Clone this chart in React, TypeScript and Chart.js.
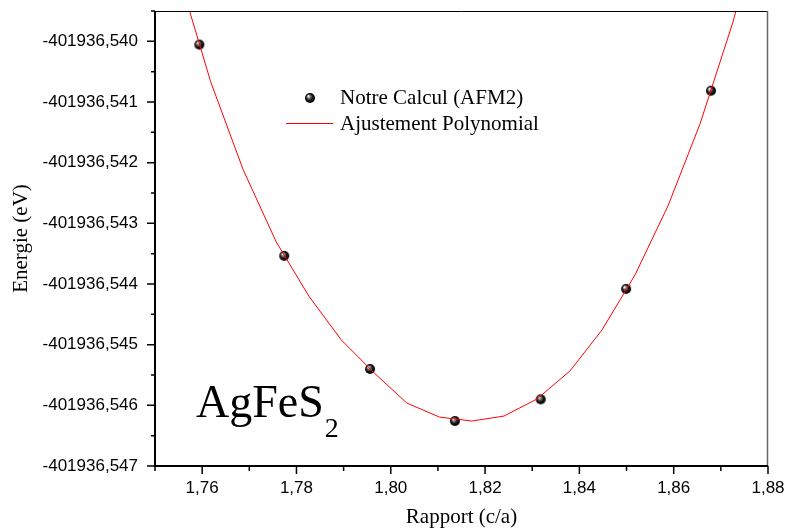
import React, { useEffect, useRef } from "react";
import { Chart, registerables } from "chart.js";
Chart.register(...registerables);

// Calculated points (c/a ratio, energy in eV)
const ratioPoints = [1.7594, 1.7774, 1.7956, 1.8136, 1.8318, 1.8499, 1.8679];
const energyPoints = [
  -401936.540054, -401936.543536, -401936.545401, -401936.546259,
  -401936.545901, -401936.544081, -401936.540814,
];

// Polynomial fit curve
const fitRatios = [
  1.7549, 1.7618, 1.7687, 1.7757, 1.7826, 1.7895, 1.7965, 1.8034, 1.8103,
  1.8172, 1.824, 1.831, 1.838, 1.8448, 1.8518, 1.8588, 1.8656, 1.8726, 1.8794,
];
const fitEnergies = [
  -401936.538866, -401936.540665, -401936.542117, -401936.543305,
  -401936.544196, -401936.544922, -401936.545467, -401936.545962,
  -401936.546193, -401936.546259, -401936.546177, -401936.545896,
  -401936.545434, -401936.544757, -401936.54385, -401936.542711,
  -401936.541358, -401936.539675, -401936.537662,
];

const xMajorTicks = [1.76, 1.78, 1.8, 1.82, 1.84, 1.86, 1.88];
const xMinorTicks = [1.75, 1.77, 1.79, 1.81, 1.83, 1.85, 1.87];
const xTickLabels = ["1,76", "1,78", "1,80", "1,82", "1,84", "1,86", "1,88"];
const yMajorTicks = [
  -401936.547, -401936.546, -401936.545, -401936.544, -401936.543,
  -401936.542, -401936.541, -401936.54,
];
const yMinorTicks = [
  -401936.5465, -401936.5455, -401936.5445, -401936.5435, -401936.5425,
  -401936.5415, -401936.5405, -401936.5395,
];
const yTickLabels = [
  "-401936,547", "-401936,546", "-401936,545", "-401936,544", "-401936,543",
  "-401936,542", "-401936,541", "-401936,540",
];

const X_MIN = 1.75;
const X_MAX = 1.88;
const Y_MIN = -401936.547;
const Y_MAX = -401936.5395;

const seriesLabels = ["Notre Calcul (AFM2)", "Ajustement Polynomial"];
const compoundName = "AgFeS";
const compoundSub = "2";

const SERIF = "'Liberation Serif', 'Times New Roman', serif";
const SANS = "'Liberation Sans', Arial, sans-serif";

function makeBall(r: number) {
  const c = document.createElement("canvas");
  const s = Math.ceil(r * 2 + 2);
  c.width = s;
  c.height = s;
  const ctx = c.getContext("2d")!;
  const cx = s / 2;
  const g = ctx.createRadialGradient(cx - r * 0.35, cx - r * 0.4, 0.3, cx, cx, r);
  g.addColorStop(0, "#ffffff");
  g.addColorStop(0.25, "#8a8a8a");
  g.addColorStop(0.6, "#1a1a1a");
  g.addColorStop(1, "#000000");
  ctx.fillStyle = g;
  ctx.beginPath();
  ctx.arc(cx, cx, r, 0, Math.PI * 2);
  ctx.fill();
  return c;
}

function zeroPadding(scale: any) {
  scale.paddingTop = 0;
  scale.paddingBottom = 0;
  scale.paddingLeft = 0;
  scale.paddingRight = 0;
}

export default function App() {
  const ref = useRef<HTMLCanvasElement | null>(null);
  useEffect(() => {
    document.body.style.margin = "0";
    const canvas = ref.current!;
    const ball = makeBall(5);

    const framePlugin = {
      id: "framePlugin",
      afterDraw(chart: any) {
        const ctx = chart.ctx;
        const { left, right, top, bottom } = chart.chartArea;
        const xs = chart.scales.x;
        const ys = chart.scales.y;
        ctx.save();
        // frame
        ctx.strokeStyle = "#000";
        ctx.lineWidth = 1;
        ctx.beginPath();
        ctx.moveTo(left, top + 0.5);
        ctx.lineTo(right, top + 0.5);
        ctx.stroke();
        ctx.strokeStyle = "#666";
        ctx.lineWidth = 1.5;
        ctx.beginPath();
        ctx.moveTo(right - 0.5, top);
        ctx.lineTo(right - 0.5, bottom);
        ctx.stroke();
        ctx.strokeStyle = "#000";
        ctx.lineWidth = 2;
        ctx.beginPath();
        ctx.moveTo(left, top);
        ctx.lineTo(left, bottom + 1);
        ctx.moveTo(left - 1, bottom);
        ctx.lineTo(right, bottom);
        ctx.stroke();
        // ticks
        ctx.lineWidth = 1.5;
        ctx.beginPath();
        xMajorTicks.forEach((v) => {
          const px = xs.getPixelForValue(v);
          ctx.moveTo(px, bottom);
          ctx.lineTo(px, bottom + 8);
        });
        xMinorTicks.forEach((v) => {
          const px = xs.getPixelForValue(v);
          ctx.moveTo(px, bottom);
          ctx.lineTo(px, bottom + 5);
        });
        yMajorTicks.forEach((v) => {
          const py = ys.getPixelForValue(v);
          ctx.moveTo(left, py);
          ctx.lineTo(left - 8, py);
        });
        yMinorTicks.forEach((v) => {
          const py = ys.getPixelForValue(v);
          ctx.moveTo(left, py);
          ctx.lineTo(left - 4, py);
        });
        ctx.stroke();

        // legend
        ctx.drawImage(ball, 310 - ball.width / 2, 98 - ball.height / 2);
        ctx.strokeStyle = "#ff0000";
        ctx.lineWidth = 1;
        ctx.beginPath();
        ctx.moveTo(286, 123.5);
        ctx.lineTo(333, 123.5);
        ctx.stroke();
        ctx.fillStyle = "#000";
        ctx.font = `21px ${SERIF}`;
        ctx.textBaseline = "alphabetic";
        ctx.textAlign = "left";
        ctx.fillText(seriesLabels[0], 340, 104);
        ctx.fillText(seriesLabels[1], 340, 130);

        // compound label
        ctx.font = `46px ${SERIF}`;
        ctx.fillText(compoundName, 196, 417);
        const w = ctx.measureText(compoundName).width;
        ctx.font = `28px ${SERIF}`;
        ctx.fillText(compoundSub, 196 + w + 1, 437);
        ctx.restore();
      },
    };

    const chart = new Chart(canvas, {
      type: "scatter",
      data: {
        datasets: [
          {
            label: seriesLabels[1],
            data: fitRatios.map((x, i) => ({ x, y: fitEnergies[i] })),
            showLine: true,
            borderColor: "#ff0000",
            borderWidth: 1,
            pointRadius: 0,
            tension: 0,
            fill: false,
          },
          {
            label: seriesLabels[0],
            data: ratioPoints.map((x, i) => ({ x, y: energyPoints[i] })),
            showLine: false,
            pointStyle: ball as any,
            pointRadius: 5,
            clip: false as any,
          },
        ],
      },
      options: {
        animation: false,
        responsive: false,
        events: [],
        layout: { padding: { left: 0, top: 11, right: 20, bottom: 0 } },
        plugins: { legend: { display: false }, tooltip: { enabled: false } },
        scales: {
          x: {
            type: "linear",
            min: X_MIN,
            max: X_MAX,
            afterBuildTicks: (scale: any) => {
              scale.ticks = xMajorTicks.map((v) => ({ value: v }));
            },
            afterFit: (scale: any) => {
              scale.height = 64;
              zeroPadding(scale);
            },
            grid: { display: false, drawTicks: false },
            border: { display: false },
            ticks: {
              autoSkip: false,
              maxRotation: 0,
              padding: 12,
              color: "#000",
              font: { family: SANS, size: 17 },
              callback: (_v: any, i: number) => xTickLabels[i],
            },
            title: {
              display: true,
              text: "Rapport (c/a)",
              color: "#000",
              font: { family: SERIF, size: 21 },
              padding: { top: 2, bottom: 0 },
            },
          },
          y: {
            type: "linear",
            min: Y_MIN,
            max: Y_MAX,
            afterBuildTicks: (scale: any) => {
              scale.ticks = yMajorTicks.map((v) => ({ value: v }));
            },
            afterFit: (scale: any) => {
              scale.width = 155;
              zeroPadding(scale);
            },
            grid: { display: false, drawTicks: false },
            border: { display: false },
            ticks: {
              autoSkip: false,
              padding: 17,
              color: "#000",
              font: { family: SANS, size: 17 },
              callback: (_v: any, i: number) => yTickLabels[i],
            },
            title: {
              display: true,
              text: "Energie (eV)",
              color: "#000",
              font: { family: SERIF, size: 21 },
              padding: { top: 9, bottom: 0 },
            },
          },
        },
      },
      plugins: [framePlugin],
    } as any);
    return () => chart.destroy();
  }, []);
  return (
    <div style={{ width: 788, height: 530 }}>
      <canvas ref={ref} width={788} height={530} style={{ width: 788, height: 530, display: "block" }} />
    </div>
  );
}
